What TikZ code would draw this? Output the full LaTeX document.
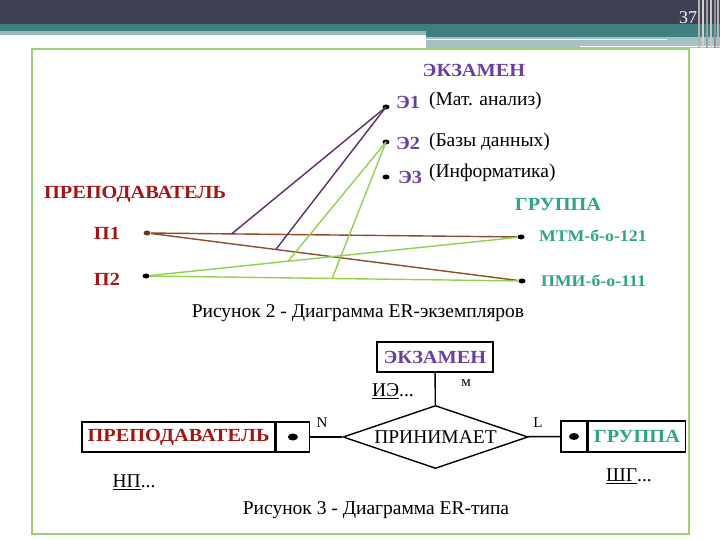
\documentclass[tikz,border=0pt]{standalone}
\usepackage{fontspec}
\setmainfont{Liberation Serif}
\newfontfamily\widefont[FakeStretch=1.1]{Liberation Serif}
\usetikzlibrary{shapes.geometric}

\definecolor{examcol}{HTML}{6B3FA0}
\definecolor{teachcol}{HTML}{A31515}
\definecolor{groupcol}{HTML}{2EA586}
\definecolor{brownln}{HTML}{8E4B2E}
\definecolor{purpleln}{HTML}{5F2C6B}
\definecolor{greenln}{HTML}{92D050}
\definecolor{framecol}{HTML}{9CCF78}
\definecolor{topbar}{HTML}{404055}
\definecolor{tealbar}{HTML}{3E7F82}
\definecolor{greybar}{HTML}{A7C0C3}

\begin{document}
\begin{tikzpicture}[x=1pt, y=-1pt, line width=1.4pt,
    lbl/.style={font=\widefont\fontsize{18.5}{20}\selectfont\bfseries},
    small lbl/.style={font=\widefont\fontsize{16.2}{18}\selectfont\bfseries},
    txt/.style={font=\fontsize{19.5}{21}\selectfont},
    card/.style={font=\fontsize{15}{17}\selectfont},
    pt/.style={ellipse, fill=black, inner sep=0, minimum width=7pt, minimum height=5pt},
    keydot/.style={ellipse, fill=black, inner sep=0, minimum width=10pt, minimum height=7pt},
    ent/.style={draw, lbl, inner sep=0, minimum height=30pt}]

    % slide
    \useasboundingbox (0, 0) rectangle (720, 540);
    \fill [white] (0, 0) rectangle (720, 540);
    \fill [topbar] (0, 0) rectangle (720, 24);
    \fill [tealbar] (0, 24) rectangle (720, 31);
    \fill [tealbar!55] (0, 31) rectangle (426, 35);
    \fill [tealbar] (426, 31) rectangle (720, 37);
    \fill [greybar] (426, 37) rectangle (720, 48);
    \draw [white, line width=1.5pt] (426, 39.5) -- (667, 39.5);
    \draw [white, line width=1.2pt] (580, 46.5) -- (720, 46.5);
    \foreach \x/\c in {699/60, 703/35, 707/75, 711/45, 715/85, 718/55}
        \draw [gray!\c, line width=2pt] (\x, 0) -- (\x, 48);
    \node [text=white!92!gray, font=\fontsize{18}{20}\selectfont] (num) at (688, 18) {37};
    \draw [framecol, line width=1.5pt] (32, 49) rectangle (689, 534);

    % ER-instances
    \node [lbl, text=examcol] (exam) at (474, 70) {ЭКЗАМЕН};
    \node [lbl, text=teachcol] (teach) at (135, 194) {ПРЕПОДАВАТЕЛЬ};
    \node [lbl, text=groupcol] (group) at (558, 204) {ГРУППА};

    \node [pt] (e1) at (386, 107) {};
    \node [pt] (e2) at (386, 142) {};
    \node [pt] (e3) at (386, 177) {};
    \node [pt, fill=brownln!75!black] (p1) at (147, 233) {};
    \node [pt] (p2) at (146, 276) {};
    \node [pt] (mtm) at (521, 237) {};
    \node [pt] (pmi) at (522, 281) {};

    \node [lbl, text=examcol] (e1l) at (408, 102) {Э1};
    \node [lbl, text=examcol] (e2l) at (408, 143) {Э2};
    \node [lbl, text=examcol] (e3l) at (410, 177) {Э3};
    \node [txt, anchor=west] (e1n) at (425, 101) {(Мат. анализ)};
    \node [txt, anchor=west] (e2n) at (425, 142) {(Базы данных)};
    \node [txt, anchor=west] (e3n) at (425, 173) {(Информатика)};
    \node [lbl, text=teachcol] (p1l) at (107, 233) {П1};
    \node [lbl, text=teachcol] (p2l) at (107, 279) {П2};
    \node [small lbl, text=groupcol, anchor=west] (mtml) at (535, 236) {МТМ-б-о-121};
    \node [small lbl, text=groupcol, anchor=west] (pmil) at (537, 281) {ПМИ-б-о-111};

    \draw [brownln] (p1) -- coordinate [pos=0.22] (a1) (mtm);
    \draw [brownln] (p1) -- coordinate [pos=0.34] (a2) (pmi);
    \draw [greenln] (p2) -- coordinate [pos=0.376] (b1) (mtm);
    \draw [greenln] (p2) -- coordinate [pos=0.495] (b2) (pmi);
    \draw [purpleln] (e1.center) -- (a1);
    \draw [purpleln] (e1.center) -- (a2);
    \draw [greenln] (e2.center) -- (b1);
    \draw [greenln] (e2.center) -- (b2);

    \node [txt] (cap2) at (358, 313) {Рисунок 2 - Диаграмма ER-экземпляров};

    % ER-type
    \node [ent, text=examcol, minimum width=116pt] (examb) at (435, 357) {ЭКЗАМЕН};
    \node [draw, diamond, txt, aspect=2.9, inner sep=0, minimum width=185pt, minimum height=63pt] (takes) at (435.5, 437) {ПРИНИМАЕТ};
    \node [ent, text=teachcol, minimum width=193pt] (teachb) at (178.5, 437) {ПРЕПОДАВАТЕЛЬ};
    \node [draw, minimum width=33pt, minimum height=30pt, anchor=west] (teachk) at (teachb.east) {};
    \node [keydot] (teachd) at (teachk) {};
    \node [draw, minimum width=26pt, minimum height=31pt] (groupk) at (574, 436.5) {};
    \node [keydot] (groupd) at (groupk) {};
    \node [ent, text=groupcol, minimum width=97pt, minimum height=31pt, anchor=west] (groupb) at (groupk.east) {ГРУППА};

    \draw (examb) -- (takes);
    \draw (teachk) -- (takes);
    \draw (takes) -- (groupk);

    \node [card] (m) at (466, 383) {м};
    \node [card] (n) at (322, 423) {N};
    \node [card] (l) at (538, 423) {L};
    \node [txt] (ie) at (393, 391) {\underline{ИЭ}...};
    \node [txt] (np) at (134, 482) {\underline{НП}...};
    \node [txt] (sg) at (629, 476) {\underline{ШГ}...};

    \node [txt] (cap3) at (376, 510) {Рисунок 3 - Диаграмма ER-типа};
\end{tikzpicture}
\end{document}
